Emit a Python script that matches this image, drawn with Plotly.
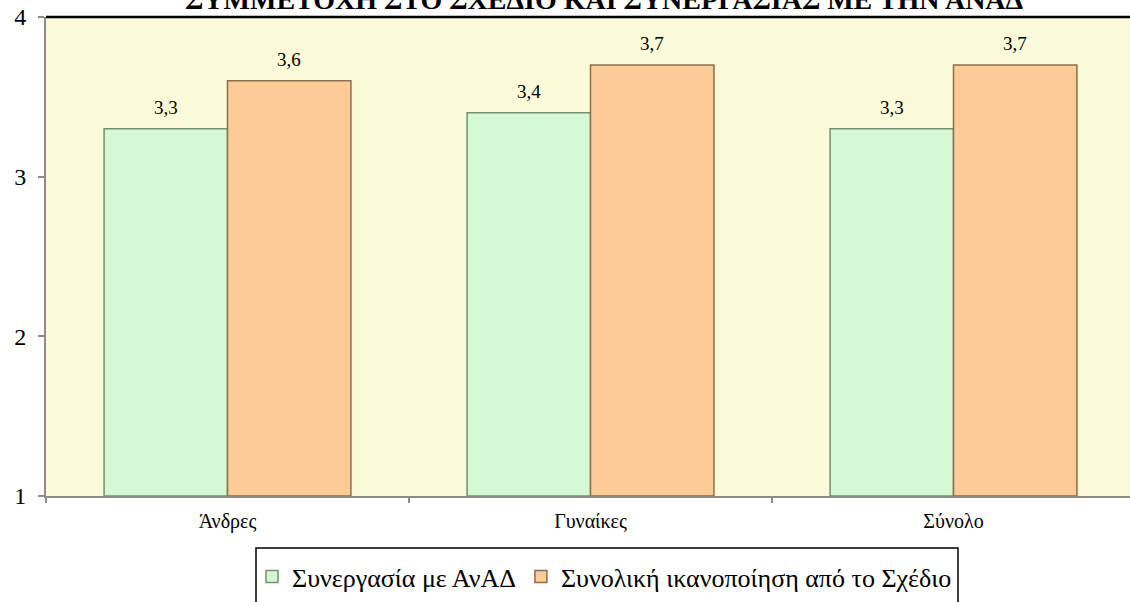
import plotly.graph_objects as go

categories = ["Άνδρες", "Γυναίκες", "Σύνολο"]
series_names = ["Συνεργασία με ΑνΑΔ", "Συνολική ικανοποίηση από το Σχέδιο"]
cooperation = [3.3, 3.4, 3.3]
satisfaction = [3.6, 3.7, 3.7]
y_ticks = [1, 2, 3, 4]
title_text = "ΣΥΜΜΕΤΟΧΗ ΣΤΟ ΣΧΕΔΙΟ ΚΑΙ ΣΥΝΕΡΓΑΣΙΑΣ ΜΕ ΤΗΝ ΑΝΑΔ"

FONT = "Liberation Serif, Times New Roman, serif"
W, H = 1130, 602
ML, MR, MT, MB = 46, 0, 17, 106
plot_w = W - ML - MR
plot_h = H - MT - MB
band_px = 363.0
x_range = [-0.5, -0.5 + plot_w / band_px]
bargap = 0.32
bar_px = band_px * (1 - bargap) / 2


def px_x(px):
    return (px - ML) / plot_w


def px_y(py):
    return (H - MB - py) / plot_h


fig = go.Figure()
fig.add_trace(go.Bar(
    x=categories, y=[v - 1 for v in cooperation], base=1, name=series_names[0],
    marker=dict(color="#d5fad3", line=dict(color="#6f936f", width=1.5)),
    hoverinfo="skip",
))
fig.add_trace(go.Bar(
    x=categories, y=[v - 1 for v in satisfaction], base=1, name=series_names[1],
    marker=dict(color="#fdcb96", line=dict(color="#8d6d4a", width=1.5)),
    hoverinfo="skip",
))

annotations = []
for vals, sign in ((cooperation, -1), (satisfaction, 1)):
    for c, v in zip(categories, vals):
        annotations.append(dict(
            x=c, y=v, xref="x", yref="y", xshift=sign * bar_px / 2, yshift=9,
            text=f"{v:.1f}".replace(".", ","), showarrow=False, yanchor="bottom",
            font=dict(family=FONT, size=19, color="#000"),
        ))
annotations.append(dict(
    x=px_x(604), y=1.0, xref="paper", yref="paper",
    text=f"<b>{title_text}</b>", showarrow=False, yanchor="bottom",
    font=dict(family=FONT, size=28, color="#000"),
))

fig.update_layout(
    width=W, height=H,
    margin=dict(l=ML, r=MR, t=MT, b=MB, pad=0, autoexpand=False),
    paper_bgcolor="#ffffff",
    plot_bgcolor="#fbfbda",
    barmode="group", bargap=bargap, bargroupgap=0,
    font=dict(family=FONT, color="#000"),
    showlegend=True,
    legend=dict(
        orientation="h", x=px_x(252), xanchor="left",
        y=px_y(553), yanchor="top",
        bgcolor="rgba(0,0,0,0)", borderwidth=0,
        font=dict(family=FONT, size=26, color="#000"),
        itemwidth=30, traceorder="normal",
    ),
    annotations=annotations,
    shapes=[
        dict(type="line", xref="paper", yref="paper", x0=0, x1=1, y0=1, y1=1,
             line=dict(color="#000000", width=2.5)),
        dict(type="rect", xref="paper", yref="paper",
             x0=px_x(256), x1=px_x(958), y0=px_y(548), y1=px_y(620),
             line=dict(color="#000000", width=1.5), fillcolor="rgba(0,0,0,0)"),
    ],
)
fig.update_xaxes(
    range=x_range, showgrid=False, showline=True, linecolor="#8c8c8c", linewidth=2,
    ticks="outside", tickson="boundaries", ticklen=5, tickcolor="#8c8c8c", tickwidth=2,
    tickfont=dict(family=FONT, size=20, color="#000"), ticklabelstandoff=6,
    fixedrange=True, automargin=False,
)
fig.update_yaxes(
    range=[1, 4], tickvals=y_ticks, showgrid=False, showline=True, linecolor="#8c8c8c",
    linewidth=2, ticks="outside", ticklen=6, tickcolor="#8c8c8c", tickwidth=2,
    tickfont=dict(family=FONT, size=24, color="#000"), ticklabelstandoff=7,
    zeroline=False, fixedrange=True, automargin=False,
)

fig.write_html(
    "out.html",
    config={"displayModeBar": False},
    post_script="document.body.style.margin='0';document.body.style.overflow='hidden';",
)
